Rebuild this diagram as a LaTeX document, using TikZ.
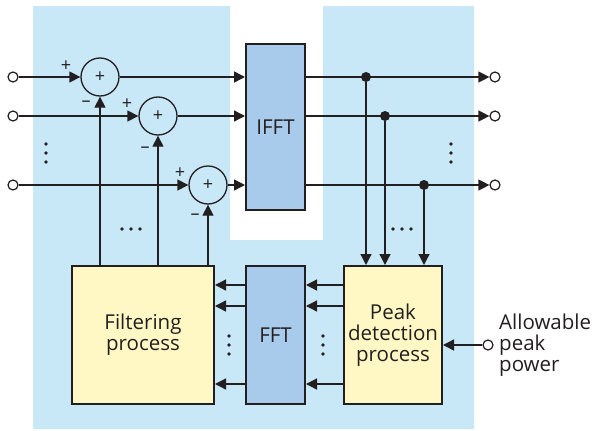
\documentclass[tikz,border=0pt]{standalone}
\usepackage{fontspec}
\setmainfont{Open Sans}
\usetikzlibrary{arrows.meta}
\definecolor{bgblue}{HTML}{C8E8F8}
\definecolor{fftblue}{HTML}{A9CBEB}
\definecolor{procyellow}{HTML}{FFF8C4}
\definecolor{ink}{HTML}{231F20}
\tikzset{
  arr/.style={draw=ink,line width=1.3pt,-{Triangle[length=11pt,width=11pt]}},
  blk/.style={draw=ink,line width=2pt,align=center,font=\fontsize{20.5}{21}\selectfont,inner sep=0pt},
  port/.style={circle,draw=ink,line width=1.2pt,fill=white,minimum size=10pt,inner sep=0pt},
  sumnode/.style={circle,draw=ink,line width=1.3pt,minimum size=38pt,inner sep=0pt,font=\fontsize{18}{18}\selectfont},
  sgn/.style={font=\fontsize{18}{18}\selectfont,inner sep=0pt},
  jdot/.style={circle,fill=ink,minimum size=10pt,inner sep=0pt},
}
\begin{document}
\begin{tikzpicture}[x=1pt,y=-1pt,ink]
\useasboundingbox (0,0) rectangle (595,431);
\fill[bgblue] (33,6) -- (230,6) -- (230,240) -- (323,240) -- (323,6) -- (474,6) -- (474,429) -- (33,429) -- cycle;

\node[blk,fill=fftblue,minimum width=59pt,minimum height=166pt] (ifft) at (275.5,127) {IFFT};
\node[blk,fill=fftblue,minimum width=59pt,minimum height=138pt] (fft) at (275.5,335) {FFT};
\node[blk,fill=procyellow,minimum width=142pt,minimum height=138pt] (filter) at (143,335) {Filtering\\process};
\node[blk,fill=procyellow,minimum width=98pt,minimum height=138pt] (peak) at (393,335) {Peak\\detection\\process};

\node[port] (in1) at (13,77) {};
\node[port] (in2) at (13,116) {};
\node[port] (in3) at (13,185) {};
\node[sumnode] (s1) at (100,77) {+};
\node[sumnode] (s2) at (158,116) {+};
\node[sumnode] (s3) at (208,185) {+};
\node[port] (o1) at (495,77) {};
\node[port] (o2) at (495,116) {};
\node[port] (o3) at (495,185) {};
\node[jdot] (j1) at (366,77) {};
\node[jdot] (j2) at (385,116) {};
\node[jdot] (j3) at (424,185) {};
\node[port] (ap) at (488,345) {};
\node[anchor=west,align=left,inner sep=0pt,font=\fontsize{20.5}{21}\selectfont] (aplabel) at (499,345) {Allowable\\peak\\power};

\node[sgn] (p1) at (66,66) {+};
\node[sgn] (m1) at (86,104) {--};
\node[sgn] (p2) at (127,104) {+};
\node[sgn] (m2) at (145,150) {--};
\node[sgn] (p3) at (180,173) {+};
\node[sgn] (m3) at (195,217) {--};

\foreach \i in {1,2,3} {
  \draw[arr] (in\i) -- (s\i);
  \draw[arr] (s\i) -- (ifft.west |- s\i);
  \draw[arr] (filter.north -| s\i) -- (s\i);
  \draw[arr] (ifft.east |- o\i) -- (o\i);
  \draw[arr] (j\i) -- (peak.north -| j\i);
}
\foreach \y in {285,306,384} {
  \draw[arr] (fft.west |- 0,\y) -- (filter.east |- 0,\y);
  \draw[arr] (peak.west |- 0,\y) -- (fft.east |- 0,\y);
}
\draw[arr] (ap) -- (peak.east |- ap);

\foreach \x/\y in {46/144,46/153,46/162,451/144,451/153,451/162,229/336,229/345,229/354,323/336,323/345,323/354,122/229,131/229,140/229,393/229,402/229,411/229}
  \fill (\x,\y) circle (1.8);
\end{tikzpicture}
\end{document}
